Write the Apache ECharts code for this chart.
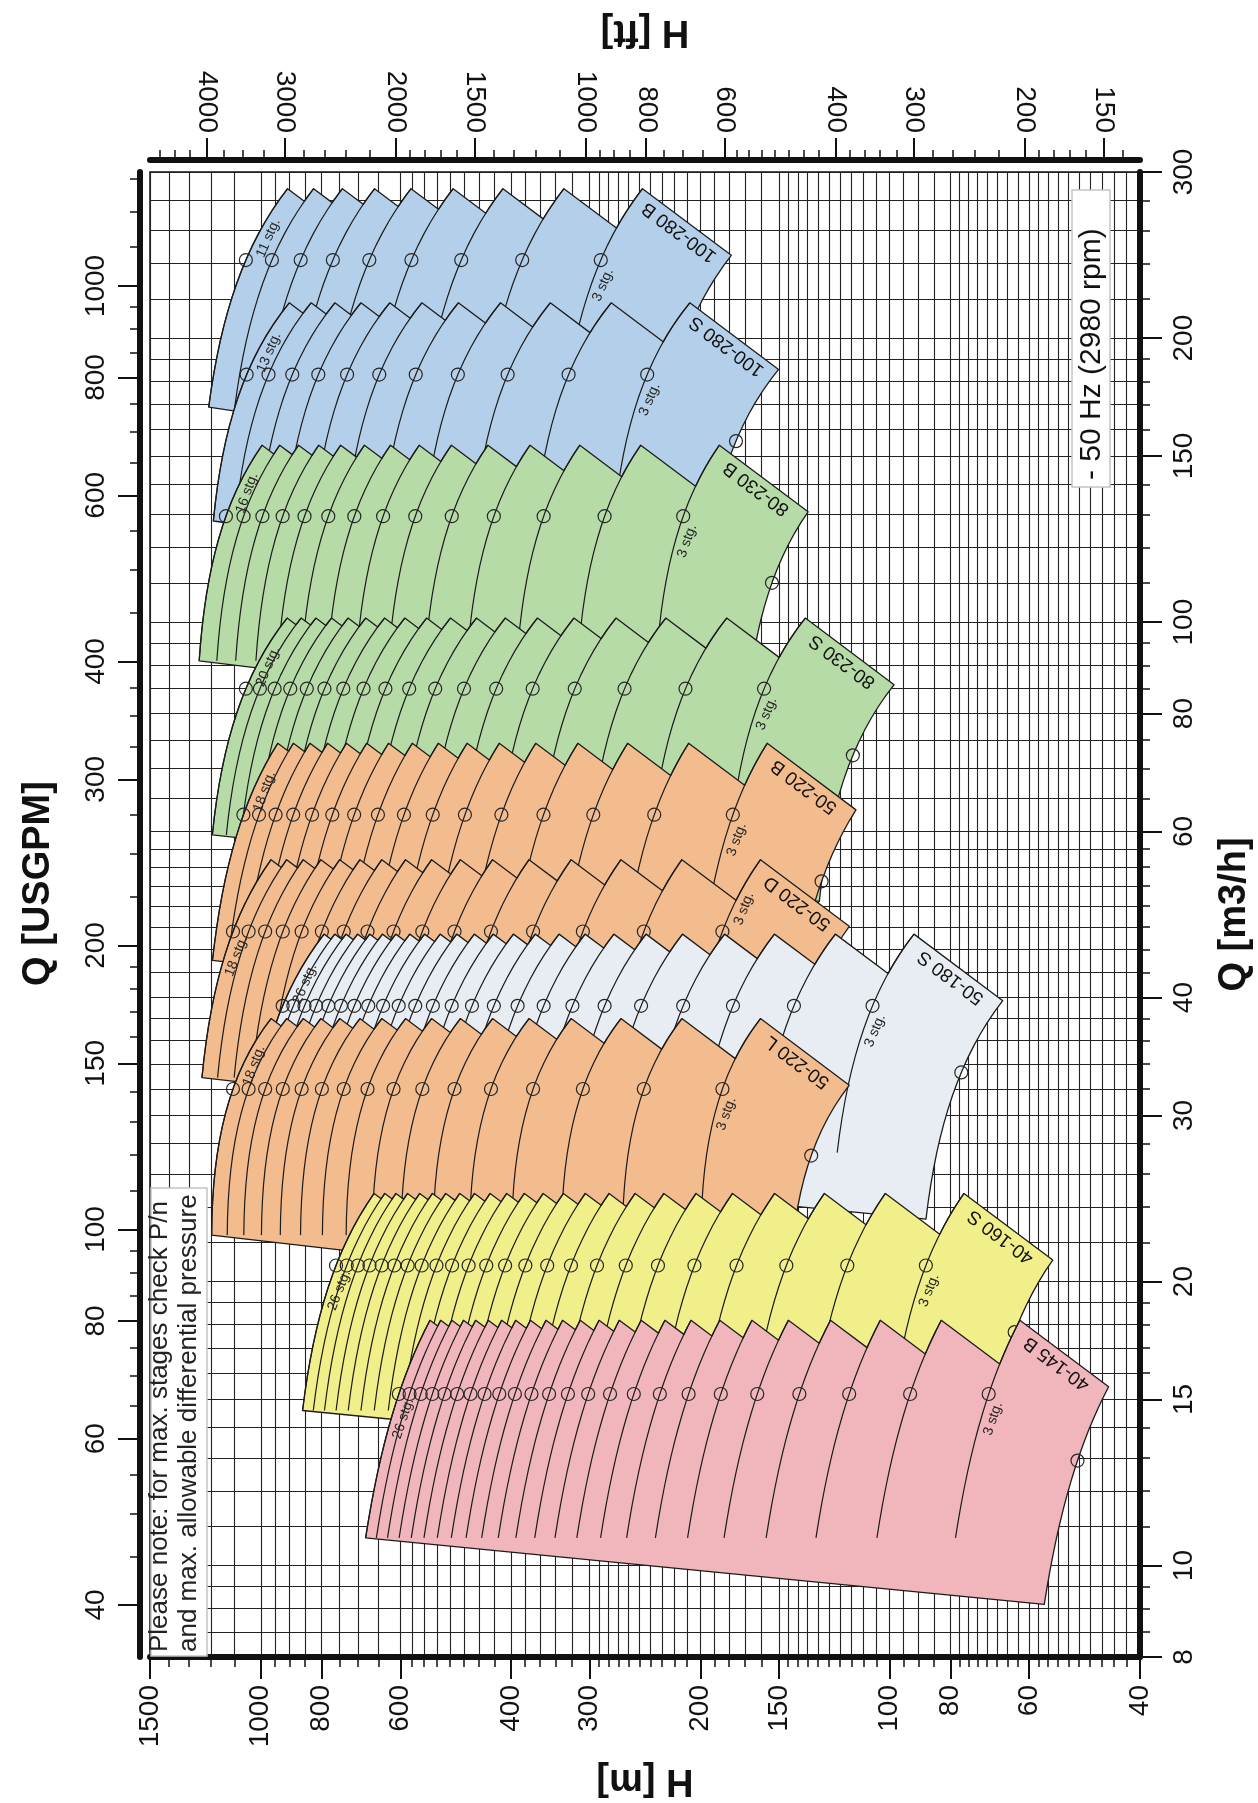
<!DOCTYPE html>
<html><head><meta charset="utf-8">
<script src="https://cdn.jsdelivr.net/npm/echarts@6/dist/echarts.min.js"></script>
<style>html,body{margin:0;padding:0;background:#fff}#c{width:1258px;height:1803px}</style>
</head><body><div id="c"></div>
<script>
// ---------------- values ----------------
const families = ['100-280 B','100-280 S','80-230 B','80-230 S','50-220 B','50-220 D','50-180 S','50-220 L','40-160 S','40-145 B'];
const minStages = [3,3,3,3,3,3,3,3,3,3];
const maxStages = [11,13,16,20,18,18,26,18,26,26];
// flow (m3/h) at start of curve, best efficiency point (circles), end of curve
const flowMin = [169, 128, 91, 59.5, 43.8, 32.9, 27.4, 22.4, 14.6, 10.7];
const flowBep = [242, 183, 129.5, 85, 62.5, 47, 39.2, 32, 20.8, 15.2];
const flowMax = [288, 218, 154, 101, 74.4, 56, 46.7, 38, 24.8, 18.2];
// head per stage (m) at those three flows
const headMin = [110, 91.5, 78.3, 59.7, 66.3, 68.9, 40.4, 66.5, 33.0, 26.2];
const headBep = [96, 81, 71, 52.8, 59.2, 61.5, 35.5, 61.5, 29.2, 23.2];
const headMax = [82.4, 69.3, 62.2, 45.4, 52.2, 53.5, 30.5, 53.5, 25.4, 20.7];
const trimRatio = 0.85;   // smallest impeller (right-hand edge of each field)

// axis tick values
const hMajor = [1500,1000,800,600,400,300,200,150,100,80,60,40];
const hGrid = [42,44,46,48,50,52,54,56,58,62.5,65,67.5,70,72.5,75,77.5,85,90,95,105,110,115,120,125,130,135,140,145,160,170,180,190,210,220,230,240,250,260,270,280,290,320,340,360,380,425,450,475,500,525,550,575,650,700,750,850,900,950,1100,1200,1300,1400];
const ftMajor = [4000,3000,2000,1500,1000,800,600,400,300,200,150];
const ftMinor = [140,160,170,180,190,220,240,260,280,320,340,360,380,425,450,475,500,525,550,575,650,700,750,850,900,950,1100,1200,1300,1400,1600,1700,1800,1900,2200,2400,2600,2800,3250,3500,3750,4250,4500,4750];
const qMajor = [8,10,15,20,30,40,60,80,100,150,200,300];
const qGrid = [8.5,9,9.5,11,12,13,14,16,17,18,19,22,24,26,28,32,34,36,38,42.5,45,47.5,50,52.5,55,57.5,65,70,75,85,90,95,110,120,130,140,160,170,180,190,220,240,260,280];
const gpmMajor = [40,60,80,100,150,200,300,400,600,800,1000];
const gpmMinor = [45,50,55,65,70,75,85,90,95,110,120,130,140,160,170,180,190,225,250,275,325,350,375,450,500,550,650,700,750,850,900,950,1100,1200,1300];

const M_PER_FT = 0.3048;
const M3H_PER_GPM = 0.2271247;

// ---------------- styling / layout ----------------
const FONT = "'Liberation Sans', Arial, Helvetica, sans-serif";
const familyFill = ['#b4cfe9','#b4cfe9','#b6dba7','#b6dba7','#f3bc8e','#f3bc8e','#e8edf3','#f3bc8e','#f1ef8a','#f0b6bb'];
const maxLabelAbove = [true,true,true,true,true,false,true,true,false,false];
const minLabelAbove = [false,false,false,false,false,true,false,false,false,false];
const INK = '#1c1c1c';

// per-stage head curve through the three read points
function headAt(fi, q) {
  const x0 = flowMin[fi], x1 = flowBep[fi], x2 = flowMax[fi];
  const y0 = headMin[fi], y1 = headBep[fi], y2 = headMax[fi];
  return y0*(q-x1)*(q-x2)/((x0-x1)*(x0-x2)) + y1*(q-x0)*(q-x2)/((x1-x0)*(x1-x2)) + y2*(q-x0)*(q-x1)/((x2-x0)*(x2-x1));
}
// where the max-flow (affinity) line from the tip of curve n meets curve n-1
function valleyRatio(fi, n) {
  const qx = flowMax[fi], hx = headAt(fi, qx);
  let lo = trimRatio, hi = 1;
  for (let k = 0; k < 50; k++) {
    const m = (lo + hi) / 2;
    const g = m*m*n*hx - (n-1)*headAt(fi, m*qx);
    if (g > 0) hi = m; else lo = m;
  }
  return (lo + hi) / 2;
}
const STEPS = 16;
function curvePoints(fi, n) {
  const q0 = flowMin[fi], q2 = flowMax[fi], pts = [];
  for (let i = 0; i <= STEPS; i++) { const q = q0 + (q2-q0)*i/STEPS; pts.push([n*headAt(fi,q), q]); }
  return pts;
}
function outlinePoints(fi) {
  const nA = minStages[fi], nB = maxStages[fi];
  const q0 = flowMin[fi], q2 = flowMax[fi];
  const pts = curvePoints(fi, nB);
  for (let n = nB; n > nA; n--) {
    const qv = valleyRatio(fi, n) * q2;
    for (let j = 0; j <= 5; j++) { const q = qv + (q2-qv)*j/5; pts.push([(n-1)*headAt(fi,q), q]); }
  }
  const t2 = trimRatio*trimRatio;
  for (let i = 0; i <= STEPS; i++) { const q = q2 - (q2-q0)*i/STEPS; pts.push([t2*nA*headAt(fi,q), trimRatio*q]); }
  return pts;
}
function txt(x, y, rot, text, size, align, valign, color) {
  return {type:'text', x:x, y:y, rotation:rot,
    style:{text:text, font: size + 'px ' + FONT, fill: color || INK,
           align:align, verticalAlign:valign, textAlign:align, textVerticalAlign:valign}};
}
function stageLabel(fi, n, above, api) {
  const qb = flowBep[fi];
  const P = api.coord([n*headBep[fi], qb]);
  const A = api.coord([n*headAt(fi, qb*1.05), qb*1.05]);
  const B = api.coord([n*headAt(fi, qb/1.05), qb/1.05]);
  let dx = A[0]-B[0], dy = A[1]-B[1];
  const L = Math.hypot(dx, dy) || 1; dx /= L; dy /= L;
  const nx = -dy, ny = dx;
  const along = above ? 29 : -22;
  return txt(P[0] + dx*along + nx*12, P[1] + dy*along + ny*12, Math.atan2(-dy, dx), n + ' stg.', 14, 'center', 'middle', '#262626');
}
function renderFamily(fi, params, api) {
  const c = p => api.coord(p);
  const nA = minStages[fi], nB = maxStages[fi];
  const children = [];
  children.push({type:'polygon', shape:{points: outlinePoints(fi).map(c)},
    style:{fill: familyFill[fi], stroke: INK, lineWidth: 1.3, lineJoin:'round'}});
  for (let n = nA; n <= nB; n++) {
    children.push({type:'polyline', shape:{points: curvePoints(fi, n).map(c)},
      style:{fill:'none', stroke: INK, lineWidth: 1.2}});
  }
  const circ = (p) => { const q = c(p); return {type:'circle', shape:{cx:q[0], cy:q[1], r:6.5}, style:{fill:'none', stroke:'#262626', lineWidth:1.2}}; };
  for (let n = nA; n <= nB; n++) children.push(circ([n*headBep[fi], flowBep[fi]]));
  children.push(circ([trimRatio*trimRatio*nA*headBep[fi], trimRatio*flowBep[fi]]));
  children.push(stageLabel(fi, nB, maxLabelAbove[fi], api));
  children.push(stageLabel(fi, nA, minLabelAbove[fi], api));
  // family name along the upper right edge
  const q2 = flowMax[fi];
  const T = c([nA*headAt(fi,q2), q2]);
  const C = c([trimRatio*trimRatio*nA*headAt(fi,q2), trimRatio*q2]);
  const vx = T[0]-C[0], vy = T[1]-C[1];
  const th = Math.atan2(-vy, vx);
  const ux = -Math.sin(th), uy = -Math.cos(th);
  children.push(txt((T[0]+C[0])/2 + ux*3, (T[1]+C[1])/2 + uy*3, th, families[fi], 19, 'center', 'bottom', '#111'));
  return {type:'group', children: children};
}

// ---------------- axes ----------------
const TICK_FONT = 28;
const tickStyle = (vals, len, w) => ({show:true, inside:false, length:len, customValues:vals, lineStyle:{color:'#111', width:w}});
const labelStyle = (vals, margin) => ({show:true, rotate:90, margin:margin, customValues:vals, fontSize:TICK_FONT, fontFamily:FONT, color:'#111', formatter: v => String(Math.round(v*100)/100)});
const gridLine = {show:true, lineStyle:{color:'#222', width:1.1}};
const thickLine = {show:true, onZero:false, lineStyle:{color:'#111', width:6}};
const noLine = {show:false, onZero:false};
const nameStyle = {fontSize:38, fontWeight:'bold', fontFamily:FONT, color:'#111'};
const hmMin = 40, hmMax = 1500, qMin = 8, qMax = 300;

const option = {
  animation: false,
  backgroundColor: '#fff',
  grid: {left:150, top:172, right:118, bottom:146, show:true, borderColor:'#111', borderWidth:1.5, backgroundColor:'#fff', containLabel:false, outerBoundsMode:'none'},
  xAxis: [
    {type:'log', min:hmMin, max:hmMax, inverse:true, position:'bottom', axisLine:thickLine, axisTick:tickStyle(hMajor,22,2), axisLabel:labelStyle(hMajor,28), splitLine:gridLine,
     name:'H [m]', nameLocation:'middle', nameGap:104, nameRotate:180, nameTextStyle:nameStyle, nameMoveOverlap:false},
    {type:'log', min:hmMin, max:hmMax, inverse:true, position:'bottom', axisLine:noLine, axisTick:tickStyle(hGrid,10,1.5), axisLabel:{show:false}, splitLine:gridLine},
    {type:'log', min:hmMin/M_PER_FT, max:hmMax/M_PER_FT, inverse:true, position:'top', offset:12, axisLine:thickLine, axisTick:tickStyle(ftMajor,22,2), axisLabel:labelStyle(ftMajor,27), splitLine:{show:false},
     name:'H [ft]', nameLocation:'middle', nameGap:110, nameRotate:180, nameTextStyle:nameStyle, nameMoveOverlap:false},
    {type:'log', min:hmMin/M_PER_FT, max:hmMax/M_PER_FT, inverse:true, position:'top', offset:12, axisLine:noLine, axisTick:tickStyle(ftMinor,10,1.5), axisLabel:{show:false}, splitLine:{show:false}}
  ],
  yAxis: [
    {type:'log', min:qMin, max:qMax, position:'right', axisLine:thickLine, axisTick:tickStyle(qMajor,22,2), axisLabel:labelStyle(qMajor,30), splitLine:gridLine,
     name:'Q [m3/h]', nameLocation:'middle', nameGap:76, nameRotate:90, nameTextStyle:nameStyle, nameMoveOverlap:false},
    {type:'log', min:qMin, max:qMax, position:'right', axisLine:noLine, axisTick:tickStyle(qGrid,10,1.5), axisLabel:{show:false}, splitLine:gridLine},
    {type:'log', min:qMin/M3H_PER_GPM, max:qMax/M3H_PER_GPM, position:'left', offset:10, axisLine:thickLine, axisTick:tickStyle(gpmMajor,22,2), axisLabel:labelStyle(gpmMajor,30), splitLine:{show:false},
     name:'Q [USGPM]', nameLocation:'middle', nameGap:82, nameRotate:90, nameTextStyle:Object.assign({padding:[0,0,0,62]}, nameStyle), nameMoveOverlap:false},
    {type:'log', min:qMin/M3H_PER_GPM, max:qMax/M3H_PER_GPM, position:'left', offset:10, axisLine:noLine, axisTick:tickStyle(gpmMinor,10,1.5), axisLabel:{show:false}, splitLine:{show:false}}
  ],
  series: families.map((name, fi) => ({
    type:'custom', name:name, xAxisIndex:0, yAxisIndex:0, clip:true, silent:true,
    encode:{x:0, y:1},
    data:[[minStages[fi]*headBep[fi], flowBep[fi]]],
    renderItem:(params, api) => renderFamily(fi, params, api)
  })),
  graphic: [
    {type:'rect', z:100, shape:{x:1072, y:190, width:38, height:297}, style:{fill:'#fff', stroke:'#c4c4c4', lineWidth:1.5}},
    {type:'text', z:101, x:1092, y:480, rotation:Math.PI/2, style:{text:'- 50 Hz (2980 rpm)', font:'30px ' + FONT, fill:'#111', align:'left', verticalAlign:'middle', textAlign:'left', textVerticalAlign:'middle'}},
    {type:'rect', z:100, shape:{x:151, y:1188, width:56, height:468}, style:{fill:'#fff', stroke:'#c4c4c4', lineWidth:1.5}},
    {type:'text', z:101, x:160, y:1652, rotation:Math.PI/2, style:{text:'Please note: for max. stages check P/n', font:'26px ' + FONT, fill:'#222', align:'left', verticalAlign:'middle', textAlign:'left', textVerticalAlign:'middle'}},
    {type:'text', z:101, x:189, y:1652, rotation:Math.PI/2, style:{text:'and max. allowable differential pressure', font:'26px ' + FONT, fill:'#222', align:'left', verticalAlign:'middle', textAlign:'left', textVerticalAlign:'middle'}}
  ]
};
const chart = echarts.init(document.getElementById('c'), null, {renderer:'canvas', width:1258, height:1803});
chart.setOption(option);
</script>
</body></html>
